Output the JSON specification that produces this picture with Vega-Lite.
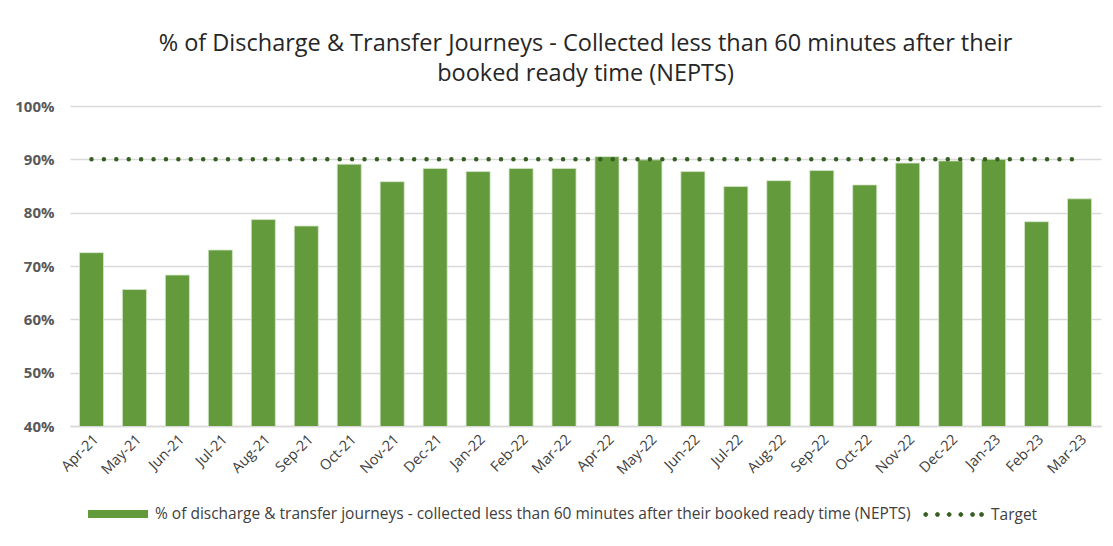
{
  "$schema": "https://vega.github.io/schema/vega-lite/v6.json",
  "width": 1031,
  "height": 320,
  "autosize": {"type": "pad"},
  "padding": {"left": 14, "top": 31, "right": 10, "bottom": 5},
  "background": "white",
  "config": {
    "font": "Open Sans",
    "view": {"stroke": null}
  },
  "title": {
    "text": ["% of  Discharge & Transfer Journeys - Collected less than 60 minutes after their", "booked ready time  (NEPTS)"],
    "fontSize": 23.5,
    "font": "Open Sans",
    "fontWeight": "normal",
    "color": "#262626",
    "lineHeight": 30,
    "offset": 14,
    "anchor": "middle"
  },
  "data": {
    "values": [
      {"month": "Apr-21", "pct": 72.5, "target": 90, "series": "% of  discharge & transfer journeys - collected less than  60 minutes after their booked ready time  (NEPTS)"},
      {"month": "May-21", "pct": 65.6, "target": 90, "series": "% of  discharge & transfer journeys - collected less than  60 minutes after their booked ready time  (NEPTS)"},
      {"month": "Jun-21", "pct": 68.3, "target": 90, "series": "% of  discharge & transfer journeys - collected less than  60 minutes after their booked ready time  (NEPTS)"},
      {"month": "Jul-21", "pct": 73.0, "target": 90, "series": "% of  discharge & transfer journeys - collected less than  60 minutes after their booked ready time  (NEPTS)"},
      {"month": "Aug-21", "pct": 78.7, "target": 90, "series": "% of  discharge & transfer journeys - collected less than  60 minutes after their booked ready time  (NEPTS)"},
      {"month": "Sep-21", "pct": 77.5, "target": 90, "series": "% of  discharge & transfer journeys - collected less than  60 minutes after their booked ready time  (NEPTS)"},
      {"month": "Oct-21", "pct": 89.1, "target": 90, "series": "% of  discharge & transfer journeys - collected less than  60 minutes after their booked ready time  (NEPTS)"},
      {"month": "Nov-21", "pct": 85.8, "target": 90, "series": "% of  discharge & transfer journeys - collected less than  60 minutes after their booked ready time  (NEPTS)"},
      {"month": "Dec-21", "pct": 88.3, "target": 90, "series": "% of  discharge & transfer journeys - collected less than  60 minutes after their booked ready time  (NEPTS)"},
      {"month": "Jan-22", "pct": 87.7, "target": 90, "series": "% of  discharge & transfer journeys - collected less than  60 minutes after their booked ready time  (NEPTS)"},
      {"month": "Feb-22", "pct": 88.3, "target": 90, "series": "% of  discharge & transfer journeys - collected less than  60 minutes after their booked ready time  (NEPTS)"},
      {"month": "Mar-22", "pct": 88.3, "target": 90, "series": "% of  discharge & transfer journeys - collected less than  60 minutes after their booked ready time  (NEPTS)"},
      {"month": "Apr-22", "pct": 90.5, "target": 90, "series": "% of  discharge & transfer journeys - collected less than  60 minutes after their booked ready time  (NEPTS)"},
      {"month": "May-22", "pct": 89.9, "target": 90, "series": "% of  discharge & transfer journeys - collected less than  60 minutes after their booked ready time  (NEPTS)"},
      {"month": "Jun-22", "pct": 87.7, "target": 90, "series": "% of  discharge & transfer journeys - collected less than  60 minutes after their booked ready time  (NEPTS)"},
      {"month": "Jul-22", "pct": 84.9, "target": 90, "series": "% of  discharge & transfer journeys - collected less than  60 minutes after their booked ready time  (NEPTS)"},
      {"month": "Aug-22", "pct": 86.0, "target": 90, "series": "% of  discharge & transfer journeys - collected less than  60 minutes after their booked ready time  (NEPTS)"},
      {"month": "Sep-22", "pct": 87.9, "target": 90, "series": "% of  discharge & transfer journeys - collected less than  60 minutes after their booked ready time  (NEPTS)"},
      {"month": "Oct-22", "pct": 85.2, "target": 90, "series": "% of  discharge & transfer journeys - collected less than  60 minutes after their booked ready time  (NEPTS)"},
      {"month": "Nov-22", "pct": 89.3, "target": 90, "series": "% of  discharge & transfer journeys - collected less than  60 minutes after their booked ready time  (NEPTS)"},
      {"month": "Dec-22", "pct": 89.7, "target": 90, "series": "% of  discharge & transfer journeys - collected less than  60 minutes after their booked ready time  (NEPTS)"},
      {"month": "Jan-23", "pct": 90.0, "target": 90, "series": "% of  discharge & transfer journeys - collected less than  60 minutes after their booked ready time  (NEPTS)"},
      {"month": "Feb-23", "pct": 78.3, "target": 90, "series": "% of  discharge & transfer journeys - collected less than  60 minutes after their booked ready time  (NEPTS)"},
      {"month": "Mar-23", "pct": 82.6, "target": 90, "series": "% of  discharge & transfer journeys - collected less than  60 minutes after their booked ready time  (NEPTS)"}
    ]
  },
  "encoding": {
    "x": {
      "field": "month",
      "type": "ordinal",
      "sort": null,
      "scale": {"paddingInner": 0.44, "paddingOuter": 0.22},
      "axis": {
        "title": null,
        "labelAngle": -45,
        "labelFont": "Open Sans",
        "labelFontSize": 14.5,
        "labelColor": "#404040",
        "ticks": false,
        "labelPadding": 6,
        "domainColor": "#d9d9d9",
        "domainWidth": 1.5
      }
    }
  },
  "layer": [
    {
      "mark": {"type": "bar", "stroke": "#d6e6c9", "strokeWidth": 0.8, "clip": true},
      "encoding": {
        "y": {
          "field": "pct",
          "type": "quantitative",
          "scale": {"domain": [40, 100], "zero": false, "nice": false},
          "axis": {
            "title": null,
            "values": [40, 50, 60, 70, 80, 90, 100],
            "labelExpr": "datum.value + '%'",
            "labelFont": "Open Sans",
            "labelFontSize": 15,
            "labelFontWeight": "bold",
            "labelColor": "#595959",
            "labelPadding": 16,
            "ticks": false,
            "domain": false,
            "gridColor": "#d9d9d9",
            "gridWidth": 1.5
          }
        },
        "color": {
          "field": "series",
          "type": "nominal",
          "scale": {"range": ["#629a3c"]},
          "legend": {
            "title": null,
            "orient": "none",
            "legendX": 18,
            "legendY": 378,
            "labelFont": "Open Sans",
            "labelFontSize": 15.5,
            "labelColor": "#404040",
            "labelLimit": 900,
            "symbolType": "M-1,-0.13H1V0.13H-1Z",
            "symbolSize": 3600,
            "symbolStrokeWidth": 0,
            "labelOffset": 7
          }
        }
      }
    },
    {
      "mark": {"type": "line", "strokeWidth": 4.5, "strokeCap": "round", "strokeDash": [0.01, 12.4]},
      "encoding": {
        "y": {"field": "target", "type": "quantitative"},
        "stroke": {
          "datum": "Target",
          "type": "nominal",
          "scale": {"range": ["#375f22"]},
          "legend": {
            "title": null,
            "orient": "none",
            "legendX": 853,
            "legendY": 378,
            "labelFont": "Open Sans",
            "labelFontSize": 15.5,
            "labelColor": "#404040",
            "symbolType": "M-0.99,0a0.065,0.065 0 1,0 0.13,0a0.065,0.065 0 1,0 -0.13,0M-0.6,0a0.065,0.065 0 1,0 0.13,0a0.065,0.065 0 1,0 -0.13,0M-0.21,0a0.065,0.065 0 1,0 0.13,0a0.065,0.065 0 1,0 -0.13,0M0.18,0a0.065,0.065 0 1,0 0.13,0a0.065,0.065 0 1,0 -0.13,0M0.57,0a0.065,0.065 0 1,0 0.13,0a0.065,0.065 0 1,0 -0.13,0M0.87,0a0.065,0.065 0 1,0 0.13,0a0.065,0.065 0 1,0 -0.13,0",
            "symbolSize": 3600,
            "symbolFillColor": "#375f22",
            "symbolStrokeWidth": 1,
            "labelOffset": 7
          }
        }
      }
    }
  ]
}
